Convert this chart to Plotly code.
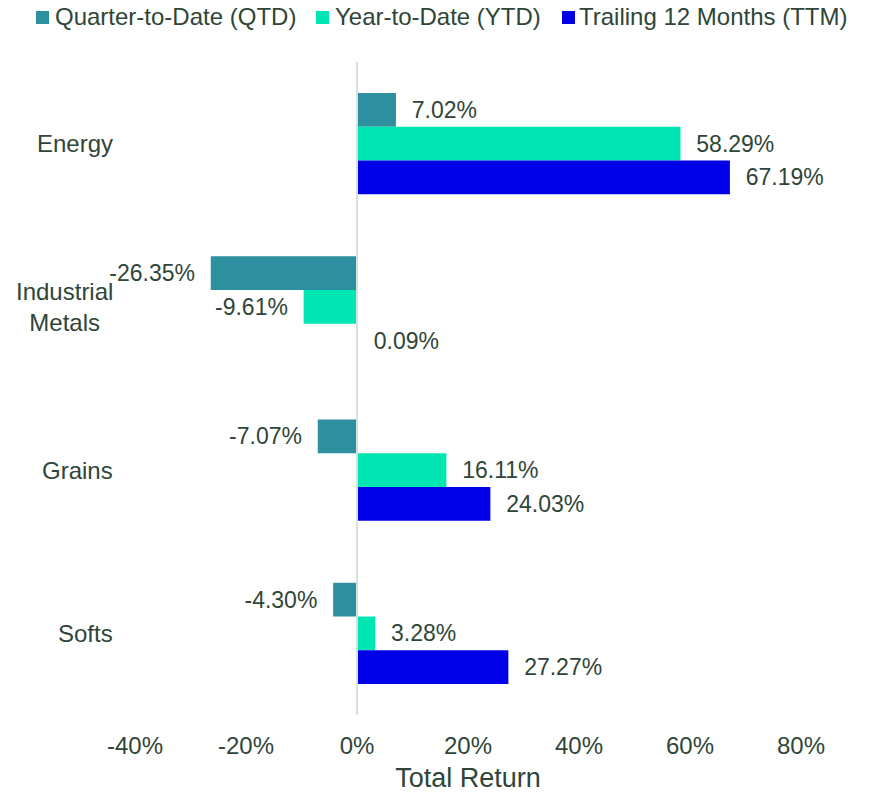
import plotly.graph_objects as go

categories = ["Energy", "Industrial Metals", "Grains", "Softs"]
category_labels = ["Energy", "Industrial<br>Metals", "Grains", "Softs"]
qtd = [7.02, -26.35, -7.07, -4.30]
ytd = [58.29, -9.61, 16.11, 3.28]
ttm = [67.19, 0.09, 24.03, 27.27]
series_names = ["Quarter-to-Date (QTD)", "Year-to-Date (YTD)", "Trailing 12 Months (TTM)"]
series_colors = ["#2E8F9E", "#00E6B2", "#0000E6"]
tick_values = [-40, -20, 0, 20, 40, 60, 80]
tick_labels = ["-40%", "-20%", "0%", "20%", "40%", "60%", "80%"]

TEXT = "#2F4538"
FONT = "Liberation Sans, Arial, sans-serif"
NB = "\u00a0\u00a0"

W, H = 869, 793
ML, MR, MT, MB = 135, 68, 62, 78
PW, PH = W - ML - MR, H - MT - MB


def px_x(px):
    return (px - ML) / PW


def px_y(py):
    return (H - MB - py) / PH


def labels(vals):
    out = []
    for v in vals:
        s = f"{v:.2f}%"
        out.append(NB + s if v >= 0 else s + NB)
    return out


fig = go.Figure()
for name, vals, col in zip(series_names, [qtd, ytd, ttm], series_colors):
    fig.add_trace(go.Bar(
        y=categories, x=vals, name=name, orientation="h",
        marker=dict(color=col, line=dict(width=0)),
        text=labels(vals), textposition="outside", cliponaxis=False,
        constraintext="none",
        textfont=dict(size=23, color=TEXT, family=FONT),
        hoverinfo="x+name",
    ))

for cat, lab in zip(categories, category_labels):
    fig.add_annotation(
        x=-0.03, xref="paper", y=cat, yref="y", text=lab, showarrow=False,
        xanchor="right", align="center", font=dict(size=24, color=TEXT, family=FONT),
    )

# manual legend (one row, like the reference)
legend_square_x = [36, 316, 562]
legend_text_x = [53, 333, 577]
for name, col, sx, tx in zip(series_names, series_colors, legend_square_x, legend_text_x):
    fig.add_shape(
        type="rect", xref="paper", yref="paper",
        x0=px_x(sx), x1=px_x(sx + 13), y0=px_y(24), y1=px_y(11),
        fillcolor=col, line=dict(width=0),
    )
    fig.add_annotation(
        x=px_x(tx), xref="paper", y=px_y(17), yref="paper", text=name,
        showarrow=False, xanchor="left", yanchor="middle",
        font=dict(size=24, color=TEXT, family=FONT),
    )

fig.update_layout(
    width=W, height=H,
    margin=dict(l=ML, r=MR, t=MT, b=MB, autoexpand=False),
    barmode="group", bargap=0.38, bargroupgap=0,
    plot_bgcolor="white", paper_bgcolor="white",
    font=dict(family=FONT, color=TEXT, size=23),
    showlegend=False,
    xaxis=dict(
        range=[-40, 80], tickvals=tick_values, ticktext=tick_labels,
        showgrid=False, zeroline=True, zerolinecolor="#D5E3DF", zerolinewidth=2,
        zerolinelayer="above traces",
        showline=False, ticks="", ticklabelstandoff=14,
        tickfont=dict(size=24, color=TEXT, family=FONT),
        title=dict(text="Total Return", font=dict(size=27, color=TEXT, family=FONT), standoff=13),
        automargin=False,
    ),
    yaxis=dict(
        autorange="reversed", showticklabels=False, showgrid=False,
        zeroline=False, showline=False, ticks="",
    ),
)

fig.write_html(
    "out.html",
    config={"displayModeBar": False},
    post_script="document.body.style.margin='0';",
)
